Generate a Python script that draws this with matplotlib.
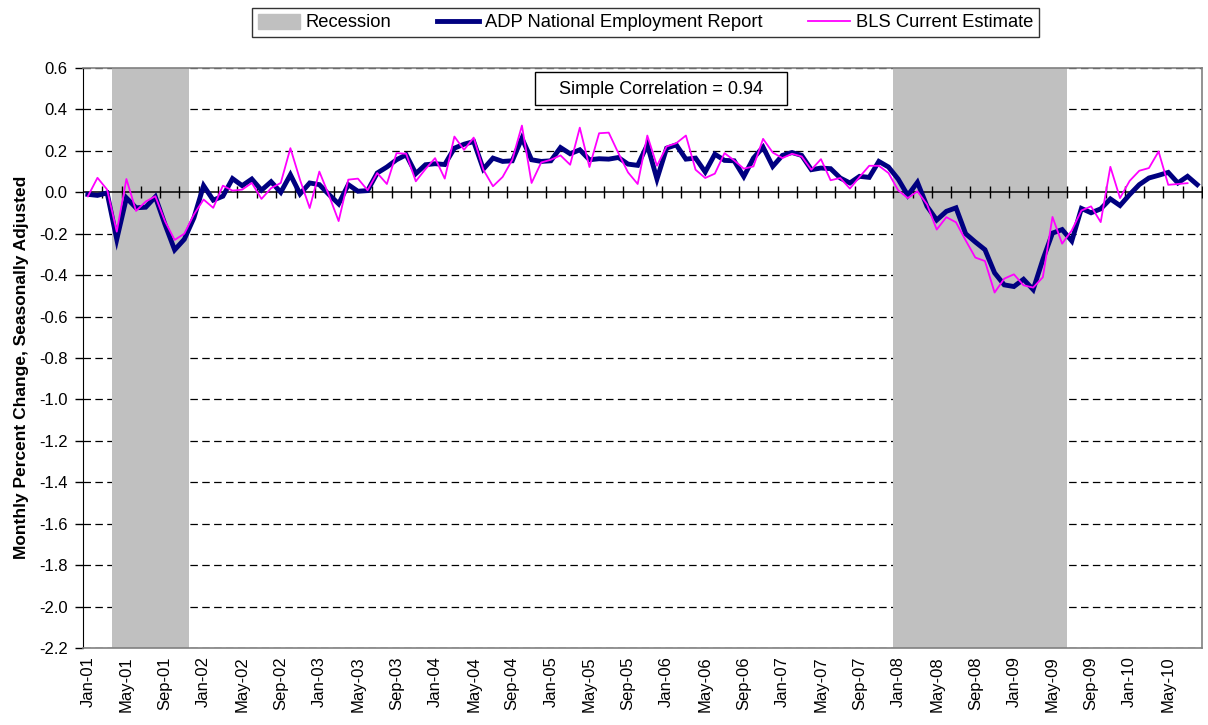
import matplotlib
matplotlib.use('Agg')
import matplotlib.pyplot as plt
import matplotlib.patches as mpatches
import matplotlib.lines as mlines
import numpy as np
import pandas as pd

plt.rcParams['font.family'] = ['Liberation Sans', 'DejaVu Sans']

# monthly, Jan-01 .. Aug-10
months = pd.date_range('2001-01-01', periods=116, freq='MS')
month_labels = [d.strftime('%b-%y') for d in months]

adp = [
    -0.010, -0.015, -0.003, -0.227, -0.027, -0.075, -0.072, -0.022, -0.155, -0.278, -0.227, -0.123,  # 2001
    0.032, -0.038, -0.019, 0.066, 0.032, 0.064, 0.010, 0.051, 0.000, 0.085, -0.008, 0.045,           # 2002
    0.037, -0.011, -0.056, 0.037, 0.005, 0.008, 0.093, 0.122, 0.157, 0.181, 0.090, 0.133,            # 2003
    0.138, 0.134, 0.213, 0.232, 0.245, 0.112, 0.165, 0.149, 0.152, 0.261, 0.157, 0.149,              # 2004
    0.152, 0.216, 0.186, 0.205, 0.157, 0.162, 0.160, 0.168, 0.136, 0.130, 0.229, 0.064,              # 2005
    0.213, 0.229, 0.160, 0.165, 0.098, 0.184, 0.154, 0.152, 0.076, 0.165, 0.218, 0.125,              # 2006
    0.178, 0.192, 0.178, 0.109, 0.117, 0.114, 0.069, 0.045, 0.077, 0.072, 0.149, 0.122,              # 2007
    0.064, -0.015, 0.048, -0.068, -0.134, -0.092, -0.075, -0.200, -0.240, -0.277, -0.389, -0.447,    # 2008
    -0.455, -0.420, -0.470, -0.325, -0.197, -0.180, -0.235, -0.078, -0.099, -0.080, -0.032, -0.064,  # 2009
    -0.011, 0.037, 0.069, 0.082, 0.096, 0.045, 0.077, 0.037,                                         # 2010
]

bls = [
    -0.020, 0.070, 0.013, -0.190, 0.064, -0.090, -0.045, -0.019, -0.140, -0.230, -0.200, -0.107,
    -0.035, -0.075, 0.032, 0.008, 0.013, 0.045, -0.032, 0.020, 0.045, 0.213, 0.060, -0.076,
    0.100, -0.015, -0.139, 0.061, 0.066, 0.010, 0.093, 0.040, 0.189, 0.186, 0.053, 0.112,
    0.165, 0.066, 0.269, 0.205, 0.264, 0.109, 0.029, 0.074, 0.157, 0.322, 0.045, 0.144,
    0.157, 0.178, 0.133, 0.312, 0.122, 0.285, 0.288, 0.189, 0.096, 0.040, 0.274, 0.128,
    0.221, 0.237, 0.274, 0.109, 0.069, 0.090, 0.189, 0.154, 0.114, 0.125, 0.258, 0.192,
    0.165, 0.186, 0.173, 0.109, 0.160, 0.058, 0.069, 0.018, 0.074, 0.128, 0.128, 0.093,
    0.010, -0.028, 0.005, -0.059, -0.180, -0.120, -0.145, -0.232, -0.315, -0.332, -0.484, -0.417,
    -0.396, -0.449, -0.460, -0.410, -0.119, -0.248, -0.184, -0.088, -0.068, -0.144, 0.123, -0.028,
    0.055, 0.104, 0.117, 0.197, 0.036, 0.040, 0.044,
]

recession_periods = [('2001-04', '2001-11'), ('2008-01', '2009-06')]
correlation = 0.94

y_min, y_max = -2.2, 0.6

fig = plt.figure(figsize=(12.08, 7.25), dpi=100)
ax = fig.add_axes([83 / 1208, 1 - 648 / 725, (1202 - 83) / 1208, (648 - 68) / 725])

x = np.arange(len(months))

# recession bars
rec_flag = np.zeros(len(months))
for start, end in recession_periods:
    rec_flag[(months >= pd.Timestamp(start)) & (months <= pd.Timestamp(end))] = 1
ax.bar(x, rec_flag * (y_max - y_min), bottom=y_min, width=1.0, color='#c0c0c0',
       linewidth=0, zorder=2)

# dashed gridlines
for yv in np.arange(-2.2, 0.61, 0.2):
    if abs(yv) < 1e-9:
        continue
    ax.axhline(yv, color='black', linewidth=0.9, dashes=(6, 3.5), zorder=1)

# zero axis with tick marks
ax.axhline(0, color='black', linewidth=1.1, zorder=3)
tick_pos = np.arange(1.5, len(months), 2)
ax.plot(tick_pos, np.zeros(len(tick_pos)), linestyle='none', marker='|', markersize=8,
        markeredgewidth=1.0, color='black', zorder=3)

ax.plot(x, adp, color='#000080', linewidth=3.5, zorder=5, solid_joinstyle='miter')
ax.plot(x[:len(bls)], bls, color='#ff00ff', linewidth=1.3, zorder=6)

ax.set_xlim(-0.5, len(months) - 0.5)
ax.set_ylim(y_min, y_max)

yt = np.round(np.arange(-2.2, 0.61, 0.2), 1)
ax.set_yticks(yt)
ax.set_yticklabels([f'{v:.1f}' for v in yt])
ax.tick_params(axis='y', direction='out', length=6, width=1, pad=5, labelsize=12)

label_idx = x[::4]
ax.set_xticks(label_idx)
ax.set_xticklabels([month_labels[i] for i in label_idx], rotation=90)
ax.tick_params(axis='x', length=0, pad=6, labelsize=12)

ax.spines['left'].set_color('black')
for s in ['top', 'right', 'bottom']:
    ax.spines[s].set_color('#808080')
    ax.spines[s].set_linewidth(1.2)

ax.set_ylabel('Monthly Percent Change, Seasonally Adjusted', fontsize=12.5,
              fontweight='bold')
ax.yaxis.set_label_coords(-54 / 1119, 1 - (367 - 68) / 580)

# correlation box
box = mpatches.Rectangle((452 / 1119, 1 - 37 / 580), 252 / 1119, 33 / 580,
                         transform=ax.transAxes, facecolor='white', edgecolor='black',
                         linewidth=1.0, zorder=7)
ax.add_patch(box)
ax.text(578 / 1119, 1 - 21 / 580, f'Simple Correlation = {correlation:.2f}',
        transform=ax.transAxes, ha='center', va='center', fontsize=13, zorder=8)

# legend
handles = [
    mpatches.Patch(color='#c0c0c0', label='Recession'),
    mlines.Line2D([], [], color='#000080', linewidth=3.5, label='ADP National Employment Report'),
    mlines.Line2D([], [], color='#ff00ff', linewidth=1.3, label='BLS Current Estimate'),
]
leg = fig.legend(handles=handles, loc='center', bbox_to_anchor=(645.5 / 1208, 1 - 22.5 / 725),
                 ncol=3, frameon=True, fancybox=False, edgecolor='black', fontsize=13.2,
                 handlelength=2.3, handleheight=0.9, handletextpad=0.3, columnspacing=2.5,
                 borderpad=0.3)
leg.get_frame().set_linewidth(1.0)

fig.savefig('out.png', dpi=100)
